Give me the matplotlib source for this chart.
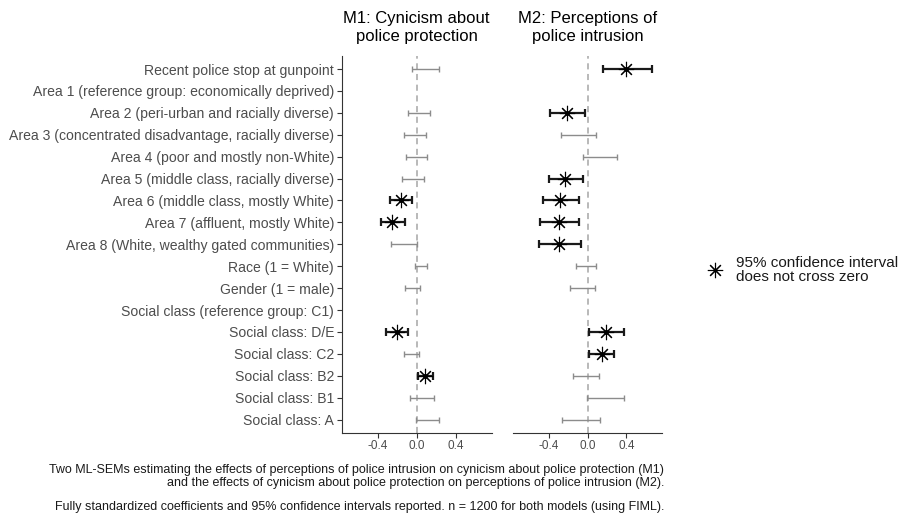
import numpy as np
import matplotlib
matplotlib.use("Agg")
import matplotlib.pyplot as plt
from matplotlib.lines import Line2D
from matplotlib import font_manager

names = {f.name for f in font_manager.fontManager.ttflist}
BASE = "Liberation Sans" if "Liberation Sans" in names else "DejaVu Sans"
plt.rcParams["font.family"] = [BASE, "DejaVu Sans"]

labels = [
    "Recent police stop at gunpoint",
    "Area 1 (reference group: economically deprived)",
    "Area 2 (peri-urban and racially diverse)",
    "Area 3 (concentrated disadvantage, racially diverse)",
    "Area 4 (poor and mostly non-White)",
    "Area 5 (middle class, racially diverse)",
    "Area 6 (middle class, mostly White)",
    "Area 7 (affluent, mostly White)",
    "Area 8 (White, wealthy gated communities)",
    "Race (1 = White)",
    "Gender (1 = male)",
    "Social class (reference group: C1)",
    "Social class: D/E",
    "Social class: C2",
    "Social class: B2",
    "Social class: B1",
    "Social class: A",
]

nan = np.nan
m1_est = [0.09, nan, 0.03, -0.02, 0.00, -0.04, -0.16, -0.25, -0.13, 0.05, -0.045, nan, -0.205, -0.05, 0.09, 0.055, 0.11]
m1_lo = [-0.05, nan, -0.085, -0.13, -0.11, -0.15, -0.27, -0.37, -0.26, -0.015, -0.12, nan, -0.315, -0.135, 0.01, -0.07, -0.01]
m1_hi = [0.225, nan, 0.14, 0.095, 0.11, 0.07, -0.045, -0.12, 0.0, 0.11, 0.03, nan, -0.09, 0.025, 0.17, 0.175, 0.225]
m1_sig = [0, 0, 0, 0, 0, 0, 1, 1, 0, 0, 0, 0, 1, 0, 1, 0, 0]

m2_est = [0.40, nan, -0.21, -0.095, 0.13, -0.23, -0.28, -0.29, -0.29, -0.015, -0.055, nan, 0.19, 0.145, -0.015, 0.19, -0.065]
m2_lo = [0.16, nan, -0.39, -0.275, -0.045, -0.40, -0.455, -0.49, -0.50, -0.12, -0.185, nan, 0.015, 0.015, -0.145, -0.005, -0.26]
m2_hi = [0.66, nan, -0.03, 0.085, 0.305, -0.05, -0.09, -0.085, -0.07, 0.09, 0.08, nan, 0.375, 0.275, 0.115, 0.38, 0.13]
m2_sig = [1, 0, 1, 0, 0, 1, 1, 1, 1, 0, 0, 0, 1, 1, 0, 0, 0]

titles = ["M1: Cynicism about\npolice protection", "M2: Perceptions of\npolice intrusion"]
xticks = [-0.4, 0.0, 0.4]
xticklabels = ["-0.4", "0.0", "0.4"]
legend_text = "95% confidence interval\ndoes not cross zero"
caption_1 = ("Two ML-SEMs estimating the effects of perceptions of police intrusion on cynicism about police protection (M1)\n"
             "and the effects of cynicism about police protection on perceptions of police intrusion (M2).")
caption_2 = "Fully standardized coefficients and 95% confidence intervals reported. n = 1200 for both models (using FIML)."

W, H = 901, 524
fig = plt.figure(figsize=(W / 100, H / 100), dpi=100)

def fx(px):
    return px / W

def fy(py):
    return 1 - py / H

top_px, bot_px = 55.9, 432.7
panels = [(341.7, 491.7), (512.7, 662.3)]
n = len(labels)
ypos = np.arange(1, n + 1)

AX_COL = "#333333"
TXT_COL = "#4d4d4d"
SIG_COL = "#1a1a1a"
NS_COL = "#8c8c8c"

data = [(m1_est, m1_lo, m1_hi, m1_sig), (m2_est, m2_lo, m2_hi, m2_sig)]

for k, ((x0, x1), (est, lo, hi, sig)) in enumerate(zip(panels, data)):
    ax = fig.add_axes([fx(x0), fy(bot_px), (x1 - x0) / W, (bot_px - top_px) / H])
    ax.set_xlim(-0.77, 0.77)
    ax.set_ylim(n + 0.6, 0.4)
    ax.axvline(0, color="#a6a6a6", lw=1.1, dashes=(4, 3), zorder=1)
    est = np.array(est, float); lo = np.array(lo, float); hi = np.array(hi, float)
    sig = np.array(sig, bool)
    ok = ~np.isnan(est)
    ns = ok & ~sig
    s = ok & sig
    ax.errorbar(est[ns], ypos[ns], xerr=[est[ns] - lo[ns], hi[ns] - est[ns]],
                fmt="none", ecolor=NS_COL, elinewidth=1.0, capsize=2.4, capthick=1.0, zorder=2)
    ax.errorbar(est[s], ypos[s], xerr=[est[s] - lo[s], hi[s] - est[s]],
                fmt="none", ecolor=SIG_COL, elinewidth=1.6, capsize=2.6, capthick=1.6, zorder=3)
    ax.plot(est[s], ypos[s], linestyle="none", marker=(8, 2, 0), markersize=11,
            markeredgewidth=0.8, color="black", zorder=4)
    ax.plot(est[s], ypos[s], linestyle="none", marker="o", markersize=2.5,
            color="black", zorder=5)

    for side in ["top", "right"]:
        ax.spines[side].set_visible(False)
    ax.spines["bottom"].set_color(AX_COL)
    ax.spines["bottom"].set_linewidth(0.8)
    ax.set_xticks(xticks)
    ax.set_xticklabels(xticklabels)
    ax.tick_params(axis="x", length=3.5, width=0.8, color=AX_COL, labelsize=8.5,
                   labelcolor=TXT_COL, pad=2)
    if k == 0:
        ax.spines["left"].set_color(AX_COL)
        ax.spines["left"].set_linewidth(0.8)
        ax.set_yticks(ypos)
        ax.set_yticklabels(labels)
        ax.tick_params(axis="y", length=3.5, width=0.8, color=AX_COL, labelsize=10.1,
                       labelcolor=TXT_COL, pad=2)
    else:
        ax.spines["left"].set_visible(False)
        ax.set_yticks([])
    ax.set_title(titles[k], fontsize=12, color="black", pad=11, linespacing=1.25)

# legend
fig.add_artist(Line2D([fx(715)], [fy(270)], transform=fig.transFigure, linestyle="none",
                      marker=(8, 2, 0), markersize=11, markeredgewidth=0.8, color="black"))
fig.text(fx(736), fy(270), legend_text, fontsize=11, color="#1a1a1a", ha="left",
         va="center", linespacing=1.05)

# caption
fig.text(fx(664), fy(476.5), caption_1, fontsize=9, color="#1a1a1a", ha="right", va="center",
         multialignment="right", linespacing=1.2)
fig.text(fx(664), fy(507), caption_2, fontsize=9, color="#1a1a1a", ha="right", va="center")

fig.savefig("out.png", dpi=100)
